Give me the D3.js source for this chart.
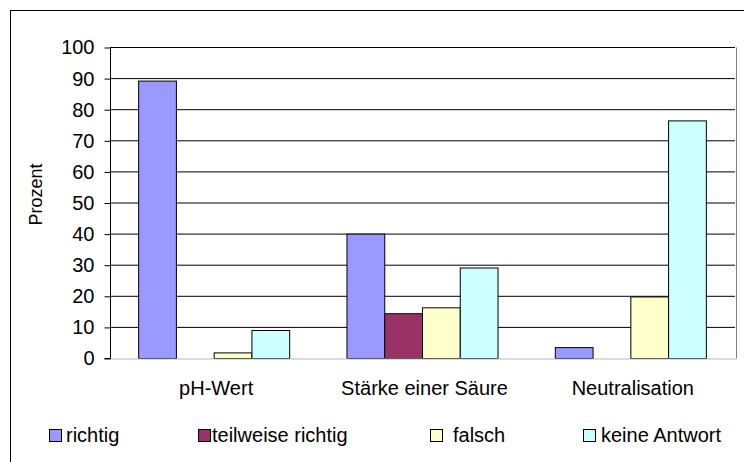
<!DOCTYPE html>
<html>
<head>
<meta charset="utf-8">
<script src="https://cdn.jsdelivr.net/npm/d3@7"></script>
<style>
  body { margin: 0; background: #fff; }
  svg { display: block; font-family: "Liberation Sans", Arial, sans-serif; }
</style>
</head>
<body>
<svg class="chart" width="744" height="462"></svg>
<script>
var categories = ['pH-Wert', 'Stärke einer Säure', 'Neutralisation'];
var seriesNames = ['richtig', 'teilweise richtig', 'falsch', 'keine Antwort'];
var seriesColors = ['#9999ff', '#993366', '#ffffcc', '#ccffff'];

var richtig = [89.2, 40, 3.5];
var teilweise = [0, 14.4, 0];
var falsch = [1.8, 16.3, 19.8];
var keineAntwort = [9, 29.1, 76.4];

var yTicks = [0, 10, 20, 30, 40, 50, 60, 70, 80, 90, 100];

var seriesValues = [richtig, teilweise, falsch, keineAntwort];

var svg = d3.select('svg.chart');

var plot = { left: 110, right: 735, top: 47.5, bottom: 358.5 };

var x0 = d3.scaleBand()
  .domain(categories)
  .range([plot.left, plot.right])
  .paddingInner(0.275)
  .paddingOuter(0.1375);

var x1 = d3.scaleBand()
  .domain(seriesNames)
  .range([0, x0.bandwidth()]);

var y = d3.scaleLinear()
  .domain([0, 100])
  .range([plot.bottom, plot.top]);

// outer chart frame, runs past the window on right and bottom
svg.append('rect')
  .attr('x', 10.5).attr('y', 10.5)
  .attr('width', 800).attr('height', 500)
  .attr('fill', 'none')
  .attr('stroke', '#000');

// gridlines
svg.append('g')
  .selectAll('line')
  .data(yTicks.filter(function (d) { return d > 0; }))
  .join('line')
  .attr('x1', plot.left).attr('x2', plot.right)
  .attr('y1', function (d) { return y(d); })
  .attr('y2', function (d) { return y(d); })
  .attr('stroke', '#000');

// right border of plot area
svg.append('line')
  .attr('x1', plot.right + 1.5).attr('x2', plot.right + 1.5)
  .attr('y1', plot.top).attr('y2', plot.bottom)
  .attr('stroke', '#808080');

// bars
var groups = svg.append('g')
  .selectAll('g')
  .data(seriesNames)
  .join('g')
  .attr('fill', function (d, i) { return seriesColors[i]; });

groups.selectAll('rect')
  .data(function (name, i) {
    return seriesValues[i].map(function (v, j) {
      return { cat: categories[j], series: name, value: v };
    });
  })
  .join('rect')
  .filter(function (d) { return d.value > 0; })
  .attr('x', function (d) { return x0(d.cat) + x1(d.series); })
  .attr('y', function (d) { return y(d.value); })
  .attr('width', x1.bandwidth())
  .attr('height', function (d) { return y(0) - y(d.value); })
  .attr('stroke', '#000')
  .attr('stroke-width', 1);

// baseline
svg.append('line')
  .attr('x1', plot.left).attr('x2', plot.right + 1.5)
  .attr('y1', y(0) + 0.5).attr('y2', y(0) + 0.5)
  .attr('stroke', '#b8b8b8');

// y axis
var yAxis = d3.axisLeft(y)
  .tickValues(yTicks)
  .tickSize(6)
  .tickPadding(10);

var yg = svg.append('g')
  .attr('transform', 'translate(' + (plot.left + 0.5) + ',0)')
  .call(yAxis);
yg.select('.domain').attr('d', 'M-6,' + y(0) + 'H0V' + y(100)).attr('stroke', '#000');
yg.selectAll('.tick line').attr('stroke', '#000');
yg.selectAll('.tick text')
  .attr('font-size', 20)
  .attr('fill', '#000')
  .attr('font-family', '"Liberation Sans", Arial, sans-serif');

// y title
svg.append('text')
  .attr('transform', 'translate(42,194.5) rotate(-90)')
  .attr('text-anchor', 'middle')
  .attr('font-size', 18)
  .text('Prozent');

// category labels
svg.append('g')
  .selectAll('text')
  .data(categories)
  .join('text')
  .attr('x', function (d) { return x0(d) + x0.bandwidth() / 2 + 2; })
  .attr('y', 395)
  .attr('text-anchor', 'middle')
  .attr('font-size', 20)
  .text(function (d) { return d; });

// legend
var legendSquareX = [49.5, 198.5, 430.5, 583.5];
var legendTextX = [66, 212, 453, 601];

var legend = svg.append('g')
  .selectAll('g')
  .data(seriesNames)
  .join('g');

legend.append('rect')
  .attr('x', function (d, i) { return legendSquareX[i]; })
  .attr('y', 429.5)
  .attr('width', 12).attr('height', 12)
  .attr('fill', function (d, i) { return seriesColors[i]; })
  .attr('stroke', '#000');

legend.append('text')
  .attr('x', function (d, i) { return legendTextX[i]; })
  .attr('y', 442)
  .attr('font-size', 20)
  .text(function (d) { return d; });
</script>
</body>
</html>
